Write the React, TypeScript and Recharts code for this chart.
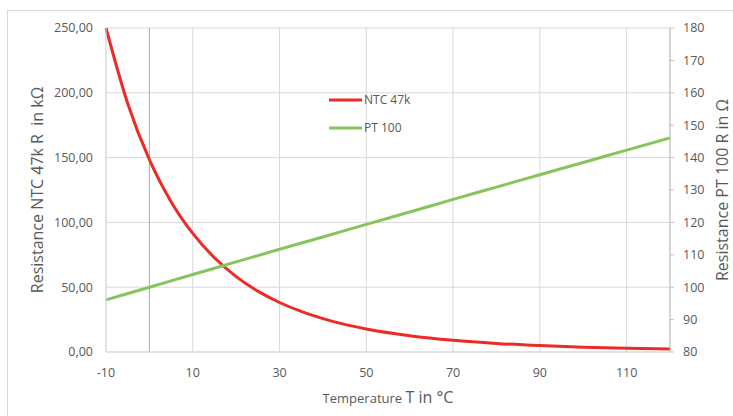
import {
  LineChart,
  Line,
  XAxis,
  YAxis,
  CartesianGrid,
  ReferenceLine,
} from 'recharts';

// temperatures (°C) and readings
const ntcTemps = [-10, -5, 0, 5, 10, 15, 20, 25, 30, 35, 40, 45, 50, 60, 70, 80, 90, 100, 110, 120];
const ntcValues = [250, 191.8, 148.4, 116, 91.5, 72.7, 58.2, 47, 38.2, 31.3, 25.8, 21.3, 17.8, 12.6, 9.05, 6.64, 4.96, 3.76, 2.89, 2.26];

const ptTemps = [-10, 0, 10, 20, 30, 40, 50, 60, 70, 80, 90, 100, 110, 120];
const ptValues = [96.1, 100, 103.9, 107.8, 111.7, 115.5, 119.4, 123.2, 127.1, 130.9, 134.7, 138.5, 142.3, 146.1];

const xTicks = [-10, 10, 30, 50, 70, 90, 110];
const leftTicks = [0, 50, 100, 150, 200, 250];
const rightTicks = [80, 90, 100, 110, 120, 130, 140, 150, 160, 170, 180];

const ntcData = ntcTemps.map((t, i) => ({ t, ntc: ntcValues[i] }));
const ptData = ptTemps.map((t, i) => ({ t, pt: ptValues[i] }));

const RED = '#ee2a26';
const GREEN = '#86c55a';
const FONT = '"Open Sans", "Liberation Sans", sans-serif';
const tickStyle = { fill: '#595959', fontSize: 12.5, fontFamily: FONT };

export default function App() {
  return (
    <div style={{ position: 'absolute', left: 0, top: 0, width: 733, height: 416, background: '#fff' }}>
      <div
        style={{
          position: 'absolute',
          left: 7,
          top: 10,
          width: 740,
          height: 420,
          border: '1px solid #d9d9d9',
          boxSizing: 'border-box',
        }}
      />
      <div style={{ position: 'absolute', left: 0, top: 0 }}>
        <LineChart width={733} height={416} margin={{ top: 28, right: 13, bottom: 34, left: 46 }}>
          <CartesianGrid stroke="#d9d9d9" yAxisId="left" />
          <XAxis
            dataKey="t"
            type="number"
            domain={[-10, 120]}
            ticks={xTicks}
            allowDuplicatedCategory={false}
            tickLine={false}
            axisLine={{ stroke: '#d9d9d9' }}
            tick={tickStyle}
            tickMargin={10}
            height={30}
          />
          <YAxis
            yAxisId="left"
            domain={[0, 250]}
            ticks={leftTicks}
            tickFormatter={(v: number) => v.toFixed(2).replace('.', ',')}
            tickLine={false}
            axisLine={{ stroke: '#d9d9d9' }}
            tick={tickStyle}
            tickMargin={7}
            width={60}
          />
          <YAxis
            yAxisId="right"
            orientation="right"
            domain={[80, 180]}
            ticks={rightTicks}
            tickLine={{ stroke: '#bfbfbf' }}
            tickSize={4}
            axisLine={{ stroke: '#bfbfbf' }}
            tick={tickStyle}
            tickMargin={9}
            width={50}
          />
          <ReferenceLine x={0} yAxisId="left" stroke="#ababab" />
          <Line
            data={ntcData}
            yAxisId="left"
            dataKey="ntc"
            name="NTC 47k"
            type="monotone"
            stroke={RED}
            strokeWidth={3}
            dot={false}
            isAnimationActive={false}
          />
          <Line
            data={ptData}
            yAxisId="right"
            dataKey="pt"
            name="PT 100"
            type="monotone"
            stroke={GREEN}
            strokeWidth={3}
            dot={false}
            isAnimationActive={false}
          />
          {/* legend */}
          <g>
            <line x1={329} y1={100} x2={362} y2={100} stroke={RED} strokeWidth={3} />
            <text x={364} y={104} fontSize={12} fill="#595959" fontFamily={FONT}>NTC 47k</text>
            <line x1={329} y1={128} x2={362} y2={128} stroke={GREEN} strokeWidth={3} />
            <text x={364} y={132} fontSize={12} fill="#595959" fontFamily={FONT}>PT 100</text>
          </g>
          <text
            x={37}
            y={190}
            transform="rotate(-90 37 190)"
            textAnchor="middle"
            dominantBaseline="central"
            fontSize={16}
            fill="#595959"
            fontFamily={FONT}
            xmlSpace="preserve"
          >
            Resistance NTC 47k R{'\u00a0'} in kΩ
          </text>
          <text
            x={722}
            y={190}
            transform="rotate(-90 722 190)"
            textAnchor="middle"
            dominantBaseline="central"
            fontSize={16}
            fill="#595959"
            fontFamily={FONT}
          >
            Resistance PT 100 R in Ω
          </text>
          <text x={388} y={403} textAnchor="middle" fill="#595959" fontFamily={FONT}>
            <tspan fontSize={13}>Temperature </tspan>
            <tspan fontSize={16}>T in °C</tspan>
          </text>
        </LineChart>
      </div>
    </div>
  );
}
